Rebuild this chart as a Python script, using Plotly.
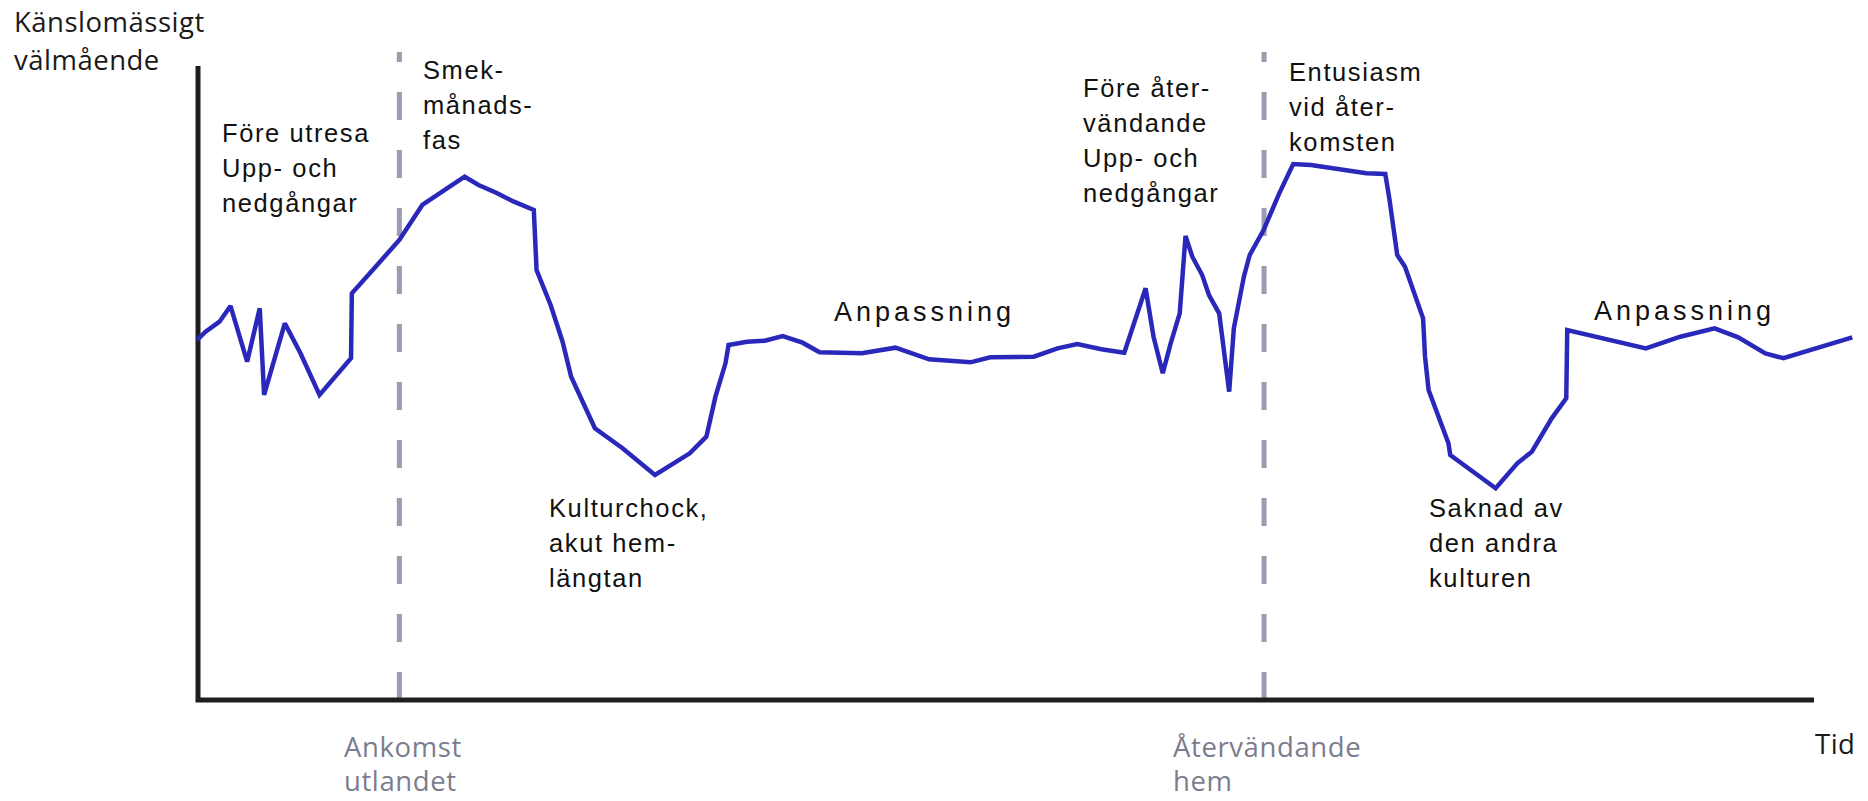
import plotly.graph_objects as go

# ---- data (time in arbitrary units: 0 = origin, 100 = end of time axis;
#      well-being: 0 = time axis, 100 = top of the vertical axis) ----
tid = [-0.07, 0.47, 1.33, 2.01, 3.04, 3.82, 4.09, 5.37, 6.34, 7.52,
       9.47, 9.52, 10.99, 12.46, 13.88, 16.50, 17.36, 18.45, 19.55, 20.78,
       20.95, 21.82, 22.56, 23.09, 24.56, 26.27, 28.28, 30.43, 31.46, 32.02,
       32.64, 32.83, 33.98, 35.08, 36.18, 37.41, 38.46, 39.98, 41.08, 43.16,
       45.24, 47.80, 49.03, 51.72, 53.19, 54.41, 55.90, 57.32, 57.98, 58.64,
       59.13, 59.70, 60.19, 60.75, 61.11, 61.53, 62.14, 62.56, 63.19, 63.81,
       64.10, 64.72, 65.08, 65.94, 66.91, 67.77, 68.87, 71.32, 72.30, 73.47,
       73.72, 74.21, 74.69, 75.81, 75.93, 76.15, 76.71, 77.38, 77.49, 80.30,
       81.64, 82.54, 83.77, 84.67, 84.73, 86.79, 89.60, 91.73, 93.85, 95.31,
       96.99, 98.11, 100.69, 102.37]
valmaende = [56.78, 58.09, 59.67, 62.15, 53.36, 61.78, 48.11, 59.42, 54.68, 48.11,
             53.90, 64.15, 68.34, 72.56, 78.08, 82.54, 81.23, 80.02, 78.60, 77.29,
             67.82, 62.30, 56.51, 50.99, 42.86, 39.70, 35.49, 38.91, 41.53, 47.84,
             53.11, 55.99, 56.51, 56.67, 57.41, 56.36, 54.84, 54.68, 54.68, 55.57,
             53.74, 53.26, 54.05, 54.15, 55.47, 56.15, 55.32, 54.78, 59.94, 64.94,
             57.30, 51.53, 56.26, 60.99, 73.19, 69.92, 67.03, 63.88, 60.99, 48.63,
             58.63, 66.77, 70.19, 74.13, 79.92, 84.54, 84.38, 83.33, 83.08, 82.97,
             79.13, 70.19, 68.34, 60.20, 54.15, 48.90, 45.22, 40.49, 38.64, 33.39,
             37.33, 39.16, 44.43, 47.59, 58.36, 57.21, 55.47, 57.30, 58.63, 57.21,
             54.68, 53.90, 55.99, 57.21]

handelse_tid = [12.46, 65.97]                       # arrival abroad, return home
handelse_text = [["Ankomst", "utlandet"], ["Återvändande", "hem"]]
axel_titel_y = ["Känslomässigt", "välmående"]
axel_titel_x = "Tid"
fas_text = [
    ["Före utresa", "Upp- och", "nedgångar"],
    ["Smek-", "månads-", "fas"],
    ["Kulturchock,", "akut hem-", "längtan"],
    ["Anpassning"],
    ["Före åter-", "vändande", "Upp- och", "nedgångar"],
    ["Entusiasm", "vid åter-", "komsten"],
    ["Saknad av", "den andra", "kulturen"],
    ["Anpassning"],
]

# ---- layout placement of the phase labels (x, y of first line) ----
fas_pos = [(1.33, 89.47), (13.81, 99.31), (21.60, 30.32), (39.24, 61.16),
           (54.63, 96.57), (67.36, 99.09), (76.04, 30.32), (86.24, 61.43)]

BLUE = "#2a28bb"
DASH = "#9a9cb0"
AXIS = "#1e1e1e"
ARIAL = "Liberation Sans, Arial, sans-serif"
MYRIAD = "Open Sans, sans-serif"

fig = go.Figure()

# dashed event lines
for t in handelse_tid:
    fig.add_shape(type="line", x0=t, x1=t, y0=0, y1=102.2, xref="x", yref="y",
                  line=dict(color=DASH, width=5, dash="28px,30px"), layer="below")

# axes (drawn as an L)
fig.add_shape(type="path", path="M 0 100 L 0 0 L 100 0", xref="x", yref="y",
              line=dict(color=AXIS, width=5), layer="below")

fig.add_trace(go.Scatter(x=tid, y=valmaende, mode="lines",
                         line=dict(color=BLUE, width=4.5),
                         hoverinfo="skip", showlegend=False))


def spaced(t, ls):
    return '<span style="letter-spacing:%spx">%s</span>' % (ls, t)


def add_lines(lines, x, y0, step, font, ls):
    for i, t in enumerate(lines):
        fig.add_annotation(x=x, y=y0 - i * step, text=spaced(t, ls),
                           xref="x", yref="y", showarrow=False,
                           xanchor="left", yanchor="middle", font=font)


phase_font = dict(family=ARIAL, size=25.5, color="#111111")
anp_font = dict(family=ARIAL, size=27, color="#111111")
for lines, (x, y) in zip(fas_text, fas_pos):
    if lines == ["Anpassning"]:
        add_lines(lines, x, y, 0, anp_font, 4)
    else:
        add_lines(lines, x, y, 5.52, phase_font, 1.6)

dark_font = dict(family=MYRIAD, size=27.5, color="#1a1a1a")
gray_font = dict(family=MYRIAD, size=27.5, color="#7b7d8e")
add_lines(axel_titel_y, -11.51, 107.09, 6.04, dark_font, 0.5)
add_lines(handelse_text[0], 8.88, -7.35, 5.4, gray_font, 0.6)
add_lines(handelse_text[1], 60.18, -7.35, 5.4, gray_font, 0.6)
add_lines([axel_titel_x], 99.93, -6.83, 0, dark_font, 0.5)

fig.update_layout(
    width=1868, height=801,
    margin=dict(l=0, r=0, t=0, b=0),
    paper_bgcolor="white", plot_bgcolor="white",
    xaxis=dict(range=[-12.253, 103.342], visible=False, fixedrange=True),
    yaxis=dict(range=[-15.931, 110.410], visible=False, fixedrange=True),
    showlegend=False,
)

fig.write_html("out.html",
               config={"displayModeBar": False, "staticPlot": True},
               post_script="document.body.style.margin='0px';"
                           "document.body.style.overflow='hidden';")
